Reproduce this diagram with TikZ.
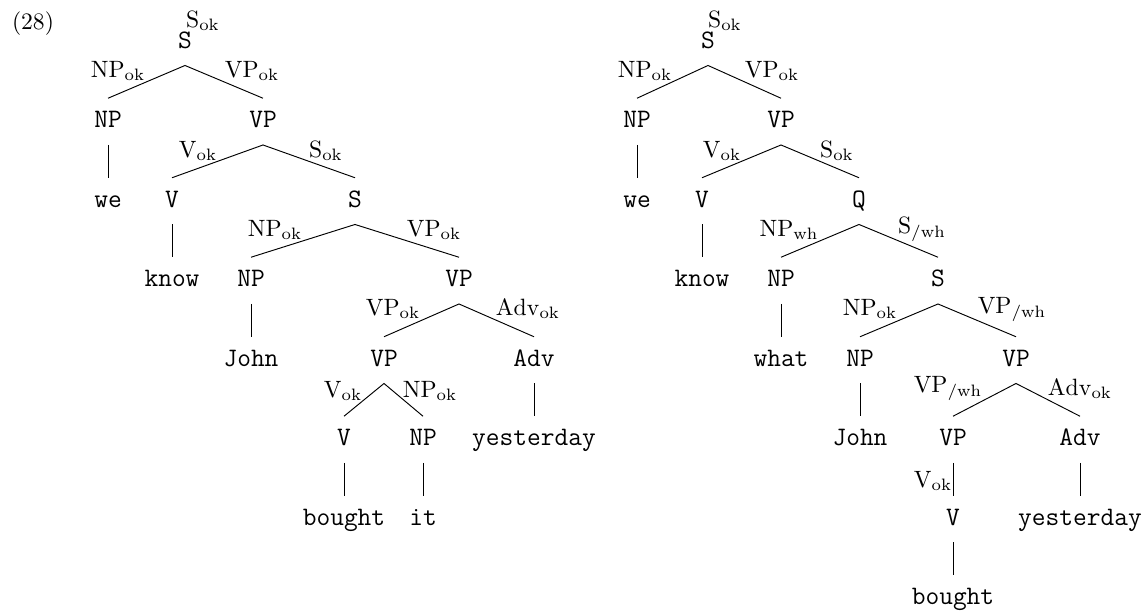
\documentclass[tikz,border=0pt]{standalone}
\begin{document}
\begin{tikzpicture}[x=0.4237pt,y=-0.4237pt,
  tn/.style={font=\fontsize{11.3}{13}\selectfont\ttfamily, inner sep=0pt,
             text height=12.2pt, text depth=7.2pt, anchor=base},
  lab/.style={inner sep=0pt, anchor=base},
  br/.style={line width=0.4pt}]
\useasboundingbox (0,0) rectangle (1144,611);

\node[lab] (num) at (33,29) {(28)};

% ---------- left tree ----------
\node[tn] (a0)  at (185,48)    {S};
\node[tn] (a1)  at (108,127.5) {NP};
\node[tn] (a2)  at (263,127.5) {VP};
\node[tn] (a3)  at (108,207)   {we};
\node[tn] (a4)  at (172,207)   {V};
\node[tn] (a5)  at (355,207)   {S};
\node[tn] (a6)  at (172,286.5) {know};
\node[tn] (a7)  at (251,286.5) {NP};
\node[tn] (a8)  at (459,286.5) {VP};
\node[tn] (a9)  at (251,366)   {John};
\node[tn] (a10) at (384,366)   {VP};
\node[tn] (a11) at (534,366)   {Adv};
\node[tn] (a12) at (344,445.5) {V};
\node[tn] (a13) at (423,445.5) {NP};
\node[tn] (a14) at (534,445.5) {yesterday};
\node[tn] (a15) at (344,525)   {bought};
\node[tn] (a16) at (423,525)   {it};

\draw[br] (a1.north) -- (a0.south) -- (a2.north);
\draw[br] (a1.south) -- (a3.north);
\draw[br] (a4.north) -- (a2.south) -- (a5.north);
\draw[br] (a4.south) -- (a6.north);
\draw[br] (a7.north) -- (a5.south) -- (a8.north);
\draw[br] (a7.south) -- (a9.north);
\draw[br] (a10.north) -- (a8.south) -- (a11.north);
\draw[br] (a12.north) -- (a10.south) -- (a13.north);
\draw[br] (a11.south) -- (a14.north);
\draw[br] (a12.south) -- (a15.north);
\draw[br] (a13.south) -- (a16.north);

\node[lab] (la0)  at (203,27)  {$\mathrm{S}_{\mathrm{ok}}$};
\node[lab] (la1)  at (118,77)  {$\mathrm{NP}_{\mathrm{ok}}$};
\node[lab] (la2)  at (252,77)  {$\mathrm{VP}_{\mathrm{ok}}$};
\node[lab] (la3)  at (198,157) {$\mathrm{V}_{\mathrm{ok}}$};
\node[lab] (la4)  at (326,157) {$\mathrm{S}_{\mathrm{ok}}$};
\node[lab] (la5)  at (275,236) {$\mathrm{NP}_{\mathrm{ok}}$};
\node[lab] (la6)  at (434,236) {$\mathrm{VP}_{\mathrm{ok}}$};
\node[lab] (la7)  at (393,315) {$\mathrm{VP}_{\mathrm{ok}}$};
\node[lab] (la8)  at (528,315) {$\mathrm{Adv}_{\mathrm{ok}}$};
\node[lab] (la9)  at (343,397) {$\mathrm{V}_{\mathrm{ok}}$};
\node[lab] (la10) at (430,397) {$\mathrm{NP}_{\mathrm{ok}}$};

% ---------- right tree ----------
\node[tn] (b0)  at (708,48)     {S};
\node[tn] (b1)  at (637,127.5)  {NP};
\node[tn] (b2)  at (781,127.5)  {VP};
\node[tn] (b3)  at (637,207)    {we};
\node[tn] (b4)  at (702,207)    {V};
\node[tn] (b5)  at (859,207)    {Q};
\node[tn] (b6)  at (702,286.5)  {know};
\node[tn] (b7)  at (781,286.5)  {NP};
\node[tn] (b8)  at (938,286.5)  {S};
\node[tn] (b9)  at (781,366)    {what};
\node[tn] (b10) at (860,366)    {NP};
\node[tn] (b11) at (1016,366)   {VP};
\node[tn] (b12) at (860,445.5)  {John};
\node[tn] (b13) at (953,445.5)  {VP};
\node[tn] (b14) at (1080,445.5) {Adv};
\node[tn] (b15) at (953,525)    {V};
\node[tn] (b16) at (1080,525)   {yesterday};
\node[tn] (b17) at (953,604.5)  {bought};

\draw[br] (b1.north) -- (b0.south) -- (b2.north);
\draw[br] (b1.south) -- (b3.north);
\draw[br] (b4.north) -- (b2.south) -- (b5.north);
\draw[br] (b4.south) -- (b6.north);
\draw[br] (b7.north) -- (b5.south) -- (b8.north);
\draw[br] (b7.south) -- (b9.north);
\draw[br] (b10.north) -- (b8.south) -- (b11.north);
\draw[br] (b10.south) -- (b12.north);
\draw[br] (b13.north) -- (b11.south) -- (b14.north);
\draw[br] (b13.south) -- (b15.north);
\draw[br] (b14.south) -- (b16.north);
\draw[br] (b15.south) -- (b17.north);

\node[lab] (lb0)  at (725,27)   {$\mathrm{S}_{\mathrm{ok}}$};
\node[lab] (lb1)  at (645,77)   {$\mathrm{NP}_{\mathrm{ok}}$};
\node[lab] (lb2)  at (772,77)   {$\mathrm{VP}_{\mathrm{ok}}$};
\node[lab] (lb3)  at (722,157)  {$\mathrm{V}_{\mathrm{ok}}$};
\node[lab] (lb4)  at (837,157)  {$\mathrm{S}_{\mathrm{ok}}$};
\node[lab] (lb5)  at (789,236)  {$\mathrm{NP}_{\mathrm{wh}}$};
\node[lab] (lb6)  at (922,233)  {$\mathrm{S}_{/\mathrm{wh}}$};
\node[lab] (lb7)  at (870,315)  {$\mathrm{NP}_{\mathrm{ok}}$};
\node[lab] (lb8)  at (1012,313) {$\mathrm{VP}_{/\mathrm{wh}}$};
\node[lab] (lb9)  at (948,392)  {$\mathrm{VP}_{/\mathrm{wh}}$};
\node[lab] (lb10) at (1080,395) {$\mathrm{Adv}_{\mathrm{ok}}$};
\node[lab] (lb11) at (933,487)  {$\mathrm{V}_{\mathrm{ok}}$};
\end{tikzpicture}
\end{document}
